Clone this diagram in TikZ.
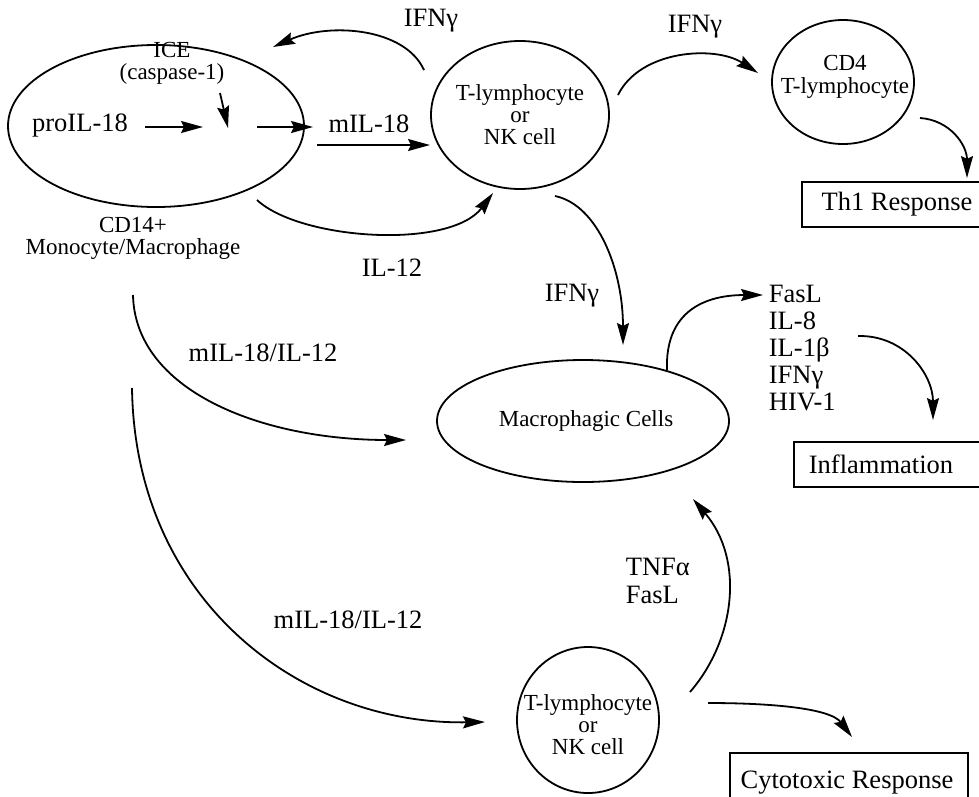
\documentclass[tikz,border=0pt]{standalone}
\usepackage{fontspec}
\setmainfont{Liberation Serif}
\usetikzlibrary{arrows.meta,shapes.geometric}
\begin{document}
\begin{tikzpicture}[x=1pt,y=-1pt,
  line width=1.8pt,
  arr/.style={-{Stealth[length=22pt,width=12pt,inset=3pt]}},
  big/.style={font=\fontsize{26.5}{27.5}\selectfont, inner sep=0pt},
  sm/.style={font=\fontsize{23}{22}\selectfont, inner sep=0pt},
  cell/.style={draw, ellipse, inner sep=0pt},
  box/.style={draw, rectangle, inner sep=0pt}]
\useasboundingbox (0,0) rectangle (979,796);
% cells
\node[cell, minimum width=296pt, minimum height=162pt] (mono) at (156,126) {};
\node[cell, minimum width=178pt, minimum height=148pt] (tcell) at (520,115) {};
\node[cell, minimum width=142pt, minimum height=124pt] (cd4) at (843,82) {};
\node[cell, minimum width=292pt, minimum height=122pt] (macro) at (583,421) {};
\node[cell, minimum width=142pt, minimum height=146pt] (tcellb) at (588,720) {};
% boxes
\node[box, minimum width=188pt, minimum height=45pt] (th1) at (896,204.5) {};
\node[box, minimum width=196pt, minimum height=45pt] (infl) at (892,464.5) {};
\node[box, minimum width=238pt, minimum height=62pt] (cyto) at (849,784) {};
% texts
\node[sm, align=center] (ice) at (172,63) {ICE\\(caspase-1)};
\node[big] (pro) at (80,126) {proIL-18};
\node[big] (mil) at (369,124) {mIL-18};
\node[sm, align=center] (cd14) at (133,238) {CD14+\\Monocyte/Macrophage};
\node[sm, align=center] (tcellt) at (520,115) {T-lymphocyte\\or\\NK cell};
\node[big] (ifna) at (431,21) {IFNγ};
\node[big] (ifnb) at (695,27) {IFNγ};
\node[big] (il12) at (392,268) {IL-12};
\node[sm, align=center, font=\fontsize{23}{23}\selectfont] (cd4t) at (845,77) {CD4\\T-lymphocyte};
\node[big] (th1t) at (897,204) {Th1 Response};
\node[big] (ifnc) at (572,296) {IFNγ};
\node[sm] (macrot) at (586,421) {Macrophagic Cells};
\node[big, align=left, anchor=west, font=\fontsize{26.5}{27}\selectfont] (list) at (768,348) {FasL\\IL-8\\IL-1β\\IFNγ\\HIV-1};
\node[big] (inflt) at (881,464) {Inflammation};
\node[big] (mila) at (263,353) {mIL-18/IL-12};
\node[big] (milb) at (348,620) {mIL-18/IL-12};
\node[big, align=left, anchor=west, font=\fontsize{26.5}{28}\selectfont] (tnf) at (625,581) {TNFα\\FasL};
\node[sm, align=center] (tcellbt) at (588,725) {T-lymphocyte\\or\\NK cell};
\node[big] (cytot) at (847,783) {Cytotoxic Response};
% coordinates
\coordinate (p1) at (145,127); \coordinate (p2) at (203,127);
\coordinate (q1) at (220,93);  \coordinate (q2) at (228,128);
\coordinate (r1) at (257,127); \coordinate (r2) at (313,127);
\coordinate (m1) at (317,145); \coordinate (m2) at (430,145);
\coordinate (ia1) at (424,70); \coordinate (ia2) at (273,47);
\coordinate (l1) at (257,200); \coordinate (l2) at (493,193);
\coordinate (ib1) at (618,95); \coordinate (ib2) at (758,73);
\coordinate (t1) at (920,118); \coordinate (t2) at (967,178);
\coordinate (ic1) at (555,196); \coordinate (ic2) at (623,345);
\coordinate (f1) at (667,370); \coordinate (f2) at (763,295);
\coordinate (g1) at (858,336); \coordinate (g2) at (933,420);
\coordinate (u1) at (133,295); \coordinate (u2) at (406,440);
\coordinate (v1) at (132,388); \coordinate (v2) at (485,722);
\coordinate (n1) at (690,692); \coordinate (n2) at (693,499);
\coordinate (c1) at (708,703); \coordinate (c2) at (852,737);
% connectors
\draw[arr] (p1) -- (p2);
\draw[arr] (q1) -- (q2);
\draw[arr] (r1) -- (r2);
\draw[arr] (m1) -- (m2);
\draw[arr] (ia1) .. controls (405,28) and (330,22) .. (ia2);
\draw[arr] (l1) .. controls (300,240) and (450,250) .. (l2);
\draw[arr] (ib1) .. controls (640,50) and (715,45) .. (ib2);
\draw[arr] (t1) .. controls (950,120) and (967,145) .. (t2);
\draw[arr] (ic1) .. controls (598,205) and (623,270) .. (ic2);
\draw[arr] (f1) .. controls (665,315) and (700,295) .. (f2);
\draw[arr] (g1) .. controls (905,335) and (933,375) .. (g2);
\draw[arr] (u1) .. controls (135,390) and (260,440) .. (u2);
\draw[arr] (v1) .. controls (135,600) and (300,725) .. (v2);
\draw[arr] (n1) .. controls (735,640) and (745,560) .. (n2);
\draw[arr] (c1) .. controls (770,703) and (830,708) .. (c2);
\end{tikzpicture}
\end{document}
